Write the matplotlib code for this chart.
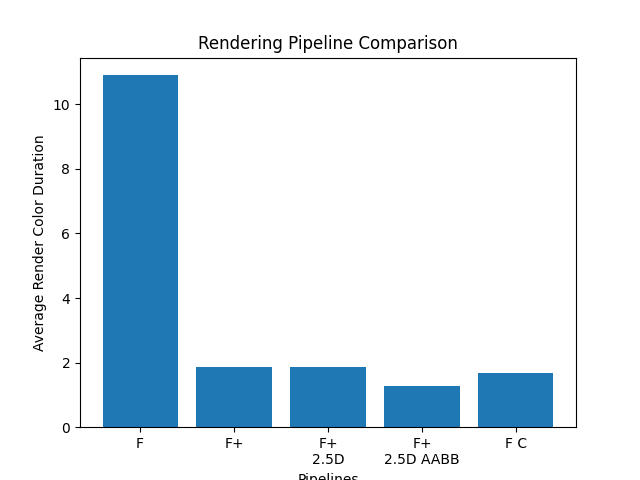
import matplotlib
matplotlib.use('Agg')
import matplotlib.pyplot as plt

pipelines = ['F', 'F+', 'F+\n2.5D', 'F+\n2.5D AABB', 'F C']
durations = [10.9, 1.87, 1.87, 1.28, 1.67]

fig, ax = plt.subplots(figsize=(6.4, 4.8), dpi=100)
ax.bar(pipelines, durations)

ax.set_title('Rendering Pipeline Comparison')
ax.set_xlabel('Pipelines')
ax.set_ylabel('Average Render Color Duration')

fig.savefig('out.png')
